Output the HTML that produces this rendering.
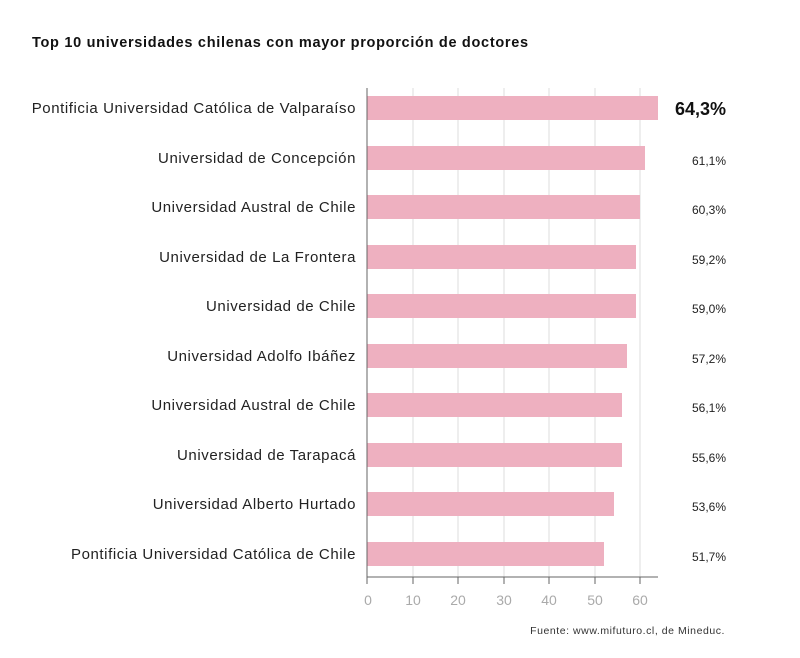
<!DOCTYPE html>
<html><head><meta charset="utf-8"><style>
body{margin:0;background:#fff;}
svg text{font-family:"Liberation Sans",sans-serif;}
</style></head><body>
<svg width="800" height="653" viewBox="0 0 800 653" xmlns="http://www.w3.org/2000/svg">
<rect width="800" height="653" fill="#fff"/>
<text x="32" y="47" font-size="14.5" font-weight="bold" fill="#111" letter-spacing="0.7">Top 10 universidades chilenas con mayor proporción de doctores</text>
<g stroke="#dcdcdc" stroke-width="1">
<line x1="413" y1="88" x2="413" y2="577"/><line x1="458" y1="88" x2="458" y2="577"/>
<line x1="504" y1="88" x2="504" y2="577"/><line x1="549" y1="88" x2="549" y2="577"/>
<line x1="595" y1="88" x2="595" y2="577"/><line x1="640" y1="88" x2="640" y2="577"/>
</g>
<g fill="#eeb0c0">
<rect x="367" y="96" width="291" height="24"/>
<rect x="367" y="146" width="278" height="24"/>
<rect x="367" y="195" width="273" height="24"/>
<rect x="367" y="245" width="269" height="24"/>
<rect x="367" y="294" width="269" height="24"/>
<rect x="367" y="344" width="260" height="24"/>
<rect x="367" y="393" width="255" height="24"/>
<rect x="367" y="443" width="255" height="24"/>
<rect x="367" y="492" width="247" height="24"/>
<rect x="367" y="542" width="237" height="24"/>
</g>
<g stroke="#666" stroke-width="1">
<line x1="367" y1="88" x2="367" y2="584"/>
<line x1="367" y1="577" x2="658" y2="577"/>
<line x1="413" y1="577" x2="413" y2="584"/><line x1="458" y1="577" x2="458" y2="584"/>
<line x1="504" y1="577" x2="504" y2="584"/><line x1="549" y1="577" x2="549" y2="584"/>
<line x1="595" y1="577" x2="595" y2="584"/><line x1="640" y1="577" x2="640" y2="584"/>
</g>
<g font-size="15" fill="#222" text-anchor="end" letter-spacing="0.58">
<text x="356" y="113">Pontificia Universidad Católica de Valparaíso</text>
<text x="356" y="163">Universidad de Concepción</text>
<text x="356" y="212">Universidad Austral de Chile</text>
<text x="356" y="262">Universidad de La Frontera</text>
<text x="356" y="311">Universidad de Chile</text>
<text x="356" y="361">Universidad Adolfo Ibáñez</text>
<text x="356" y="410">Universidad Austral de Chile</text>
<text x="356" y="460">Universidad de Tarapacá</text>
<text x="356" y="509">Universidad Alberto Hurtado</text>
<text x="356" y="559">Pontificia Universidad Católica de Chile</text>
</g>
<g font-size="12" fill="#222" text-anchor="end">
<text x="726" y="115" font-size="18" font-weight="bold" fill="#111">64,3%</text>
<text x="726" y="165">61,1%</text>
<text x="726" y="214">60,3%</text>
<text x="726" y="264">59,2%</text>
<text x="726" y="313">59,0%</text>
<text x="726" y="363">57,2%</text>
<text x="726" y="412">56,1%</text>
<text x="726" y="462">55,6%</text>
<text x="726" y="511">53,6%</text>
<text x="726" y="561">51,7%</text>
</g>
<g font-size="14" fill="#aaa" text-anchor="middle">
<text x="368" y="605">0</text><text x="413" y="605">10</text><text x="458" y="605">20</text>
<text x="504" y="605">30</text><text x="549" y="605">40</text><text x="595" y="605">50</text><text x="640" y="605">60</text>
</g>
<text x="725" y="634" font-size="10.5" fill="#333" text-anchor="end" letter-spacing="0.55">Fuente: www.mifuturo.cl, de Mineduc.</text>
</svg>
</body></html>
